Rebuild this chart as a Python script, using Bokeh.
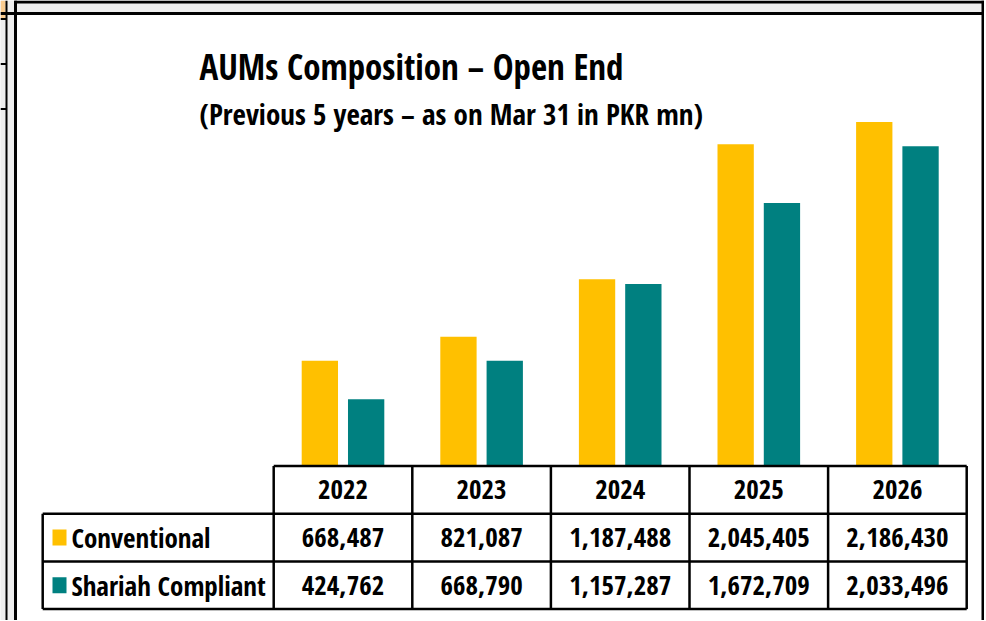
from bokeh.plotting import figure
from bokeh.models import Range1d, Label, Span, BoxAnnotation
from bokeh.core.properties import value
from bokeh.embed import file_html
from bokeh.resources import INLINE

# ---- data ----
years = ["2022", "2023", "2024", "2025", "2026"]
series_names = ["Conventional", "Shariah Compliant"]
conventional = [668487, 821087, 1187488, 2045405, 2186430]
shariah = [424762, 668790, 1157287, 1672709, 2033496]
colors = ["#FFC000", "#008080"]
title_text = "AUMs Composition \u2013 Open End"
subtitle_text = "(Previous 5 years \u2013 as on Mar 31 in PKR mn)"

FONT_NAME = "Open Sans Condensed"
FONT = value(FONT_NAME)

# ---- layout (pixels on the canvas) ----
W, H = 984, 620
COL_W = 138.6            # px per category column
COL0_CX = 342.5          # canvas x of first category centre
BASE_Y = 465.5           # canvas y of value zero (table top)
PX_PER_UNIT = 157.3 / 1e6
ROW_H_PX = 47.7
LABEL_COL_PX = 231.0

x_start = -COL0_CX / COL_W
x_end = x_start + W / COL_W
y_end = BASE_Y / PX_PER_UNIT
y_start = -(H - BASE_Y) / PX_PER_UNIT

def px_x(cx):
    return x_start + cx / COL_W

def px_y(cy):
    return y_end - cy / PX_PER_UNIT

p = figure(width=W, height=H, output_backend="svg", toolbar_location=None,
           x_range=Range1d(x_start, x_end), y_range=Range1d(y_start, y_end),
           min_border=0, tools="")
p.axis.visible = False
p.grid.visible = False
p.outline_line_color = None
p.background_fill_color = "#eeeeee"
p.border_fill_color = "#eeeeee"

# white panel inside frame
p.add_layout(BoxAnnotation(left=px_x(15), right=px_x(983), top=px_y(13), bottom=y_start,
                           fill_color="white", fill_alpha=1, line_color=None, level="underlay"))
# decorative sheet edges outside the frame
p.add_layout(BoxAnnotation(left=x_start, right=px_x(5), top=y_end, bottom=px_y(18),
                           fill_color="#f9cb8f", fill_alpha=1, line_color=None, level="underlay"))
p.add_layout(BoxAnnotation(left=px_x(14), right=x_end, top=y_end, bottom=px_y(3),
                           fill_color="black", fill_alpha=1, line_color=None))
for yy in [18.5, 63.5, 108.5]:
    p.add_layout(BoxAnnotation(left=x_start, right=px_x(6), top=px_y(yy - 1), bottom=px_y(yy + 1),
                               fill_color="black", fill_alpha=1, line_color=None))
p.add_layout(Span(location=px_x(6), dimension="height", line_color="black", line_width=2))
# frame lines
p.add_layout(Span(location=px_x(15), dimension="height", line_color="black", line_width=3))
p.add_layout(Span(location=px_y(13), dimension="width", line_color="black", line_width=3))
p.add_layout(Span(location=px_x(982.5), dimension="height", line_color="black", line_width=3))

# ---- bars ----
n = len(years)
idx = list(range(n))
dodge = 0.167
bar_w = 0.262
p.vbar(x=[i - dodge for i in idx], top=conventional, bottom=0, width=bar_w,
       fill_color=colors[0], line_color=None)
p.vbar(x=[i + dodge for i in idx], top=shariah, bottom=0, width=bar_w,
       fill_color=colors[1], line_color=None)

# ---- data table ----
rh = ROW_H_PX / PX_PER_UNIT
left_edge = -0.5 - LABEL_COL_PX / COL_W
col_edges = [i - 0.5 for i in range(n + 1)]
xs0, ys0, xs1, ys1 = [], [], [], []
xs0.append(col_edges[0]); xs1.append(col_edges[-1]); ys0.append(0); ys1.append(0)
for r in range(1, 4):
    xs0.append(left_edge); xs1.append(col_edges[-1]); ys0.append(-r * rh); ys1.append(-r * rh)
for e in col_edges:
    xs0.append(e); xs1.append(e); ys0.append(0); ys1.append(-3 * rh)
xs0.append(left_edge); xs1.append(left_edge); ys0.append(-rh); ys1.append(-3 * rh)
p.segment(x0=xs0, y0=ys0, x1=xs1, y1=ys1, line_color="black", line_width=2.5)

p.text(x=idx, y=[-0.5 * rh] * n, text=years, text_font=FONT, text_font_style="bold",
       text_font_size="27px", text_align="center", text_baseline="middle", text_color="black")
for r, vals in enumerate([conventional, shariah]):
    yc = -(r + 1.5) * rh
    p.text(x=idx, y=[yc] * n, text=[f"{v:,}" for v in vals], text_font=FONT,
           text_font_style="bold", text_font_size="27px", text_align="center",
           text_baseline="middle", text_color="black")
    p.rect(x=[px_x(59)], y=[yc], width=14, height=16, width_units="screen",
           height_units="screen", fill_color=colors[r], line_color=None)
    p.text(x=[px_x(71)], y=[yc], text=[series_names[r]], text_font=FONT,
           text_font_style="bold", text_font_size="27px", text_align="left",
           text_baseline="middle", text_color="black")

# ---- titles ----
p.add_layout(Label(x=px_x(199), y=px_y(65.5), text=title_text, text_font=FONT_NAME,
                   text_font_style="bold", text_font_size="35px", text_baseline="alphabetic",
                   text_color="black"))
p.add_layout(Label(x=px_x(199), y=px_y(113), text=subtitle_text, text_font=FONT_NAME,
                   text_font_style="bold", text_font_size="29px", text_baseline="alphabetic",
                   text_color="black"))

open("out.html", "w").write(file_html(p, INLINE))
